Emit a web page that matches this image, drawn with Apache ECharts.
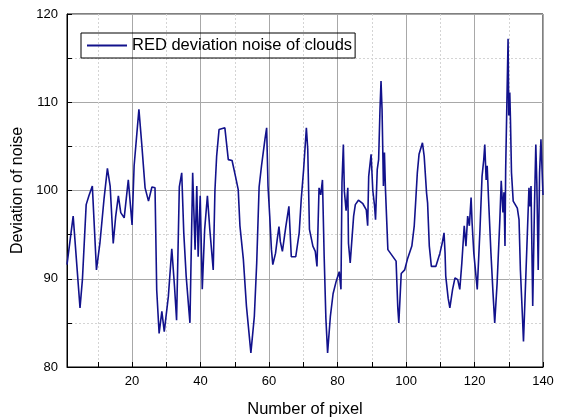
<!DOCTYPE html>
<html>
<head>
<meta charset="utf-8">
<script src="https://cdn.jsdelivr.net/npm/echarts@6/dist/echarts.min.js"></script>
<style>html,body{margin:0;padding:0;background:#fff;}#c{width:561px;height:419px;}</style>
</head>
<body>
<div id="c"></div>
<script>
var pixelX = [1.0,2.8,4.8,5.5,6.6,7.4,8.4,9.6,10.6,11.8,12.8,13.6,14.5,15.2,16.0,16.7,17.7,18.9,20.0,20.6,
  22.0,22.8,23.8,24.8,25.8,26.7,27.2,27.9,28.7,29.4,30.6,31.6,32.4,33.0,33.8,34.5,35.1,35.8,36.5,36.9,
  37.7,38.4,38.9,39.3,39.9,40.5,41.2,42.0,42.7,43.7,44.2,44.7,45.4,47.1,48.1,49.2,50.2,51.0,51.5,52.5,
  53.4,54.7,55.7,56.4,57.1,57.8,58.8,59.3,59.7,60.2,60.7,61.1,61.9,62.4,62.9,63.3,63.9,64.9,65.8,66.5,
  67.8,68.8,69.4,70.1,70.9,71.3,71.8,72.8,73.5,74.0,74.6,75.1,75.6,76.1,76.6,77.1,77.9,78.7,79.6,80.5,
  81.0,81.3,81.7,82.0,82.5,83.0,83.2,83.7,84.7,85.2,86.1,87.4,88.4,88.8,89.1,89.8,90.3,90.8,91.1,91.6,
  92.0,92.4,92.7,93.0,93.4,93.7,94.0,94.7,97.1,97.6,97.9,98.6,99.6,100.4,101.7,102.4,102.8,103.3,103.8,104.3,
  104.8,105.3,106.0,106.3,106.8,107.4,108.7,109.9,110.6,111.1,111.4,111.6,112.3,112.8,113.6,114.3,115.1,115.7,116.3,117.0,
  117.5,118.0,118.5,119.0,119.3,119.8,120.8,121.6,122.2,122.7,123.0,123.4,123.7,124.1,124.8,125.4,125.9,126.6,127.4,127.8,
  128.3,128.6,128.9,129.1,129.4,129.8,130.0,130.3,130.5,130.8,131.3,132.5,133.0,133.4,134.0,134.3,134.6,135.4,135.9,136.2,
  136.5,137.0,137.5,137.9,138.2,138.6,139.0,139.4,140.0];
var noiseY = [91.6,97.1,86.7,89.9,98.4,99.4,100.5,91.0,94.0,99.0,102.5,100.5,94.0,97.0,99.4,97.5,96.9,101.2,96.1,102.8,
  109.2,105.4,100.3,98.8,100.4,100.3,88.7,83.8,86.3,84.0,88.0,93.4,89.1,85.3,100.4,102.0,95.2,90.3,86.9,85.0,
  102.0,93.3,100.5,92.5,99.4,88.8,95.6,99.4,95.6,91.0,100.0,103.9,106.9,107.1,103.5,103.4,101.6,100.1,96.0,92.2,
  86.9,81.6,85.7,91.8,100.4,102.8,105.8,107.1,100.5,97.1,93.3,91.6,92.9,94.5,95.9,94.2,93.1,95.9,98.2,92.5,
  92.5,95.2,99.0,102.4,107.1,104.7,95.6,93.7,93.1,91.4,100.3,99.5,101.2,92.5,85.5,81.6,85.7,88.3,89.7,90.8,
  88.8,100.9,105.2,99.9,97.7,100.3,94.0,91.8,97.1,98.4,98.9,98.5,97.8,96.0,101.6,104.1,100.0,98.3,96.7,102.4,
  103.5,109.2,112.4,109.2,100.5,104.3,100.1,93.3,92.0,86.7,85.0,90.6,91.0,92.2,93.7,96.0,98.6,102.0,104.1,104.1,
  105.4,103.9,99.7,98.6,93.7,91.4,91.4,92.9,94.1,95.2,92.9,90.3,87.8,86.7,88.8,90.1,89.9,88.8,91.8,96.0,
  93.7,97.1,96.0,99.2,96.3,92.9,88.8,95.6,101.6,103.5,105.2,101.2,102.8,99.0,92.9,88.4,85.0,89.5,96.7,101.1,
  97.5,99.8,93.7,102.4,108.8,117.2,108.5,111.1,108.0,102.0,98.8,98.0,96.7,91.0,85.7,82.9,86.1,94.8,100.3,98.2,
  100.5,86.9,98.0,105.2,100.9,91.0,102.0,105.8,99.5];
var xLabelTicks = [20, 40, 60, 80, 100, 120, 140];
var xAllTicks = [10, 20, 30, 40, 50, 60, 70, 80, 90, 100, 110, 120, 130, 140];
var xMinorGrid = [10, 30, 50, 70, 90, 110, 130];
var seriesName = 'RED deviation noise of clouds';

var points = pixelX.map(function (x, i) { return [x, noiseY[i]]; });
var font = 'Liberation Sans, Arial, sans-serif';
var lineColor = '#12128c';
var chart = echarts.init(document.getElementById('c'), null, {renderer: 'canvas'});
chart.setOption({
  animation: false,
  backgroundColor: '#fff',
  grid: {left: 67, right: 18, top: 14, bottom: 52, outerBoundsMode: 'none', containLabel: false,
    show: true, borderColor: '#000', borderWidth: 1, backgroundColor: 'transparent'},
  legend: {
    left: 81, top: 33, padding: [4, 3, 4, 6], borderColor: '#000', borderWidth: 1, borderRadius: 0,
    itemWidth: 40, itemHeight: 2, itemGap: 5,
    textStyle: {fontFamily: font, fontSize: 16.5, color: '#000', lineHeight: 17},
    data: [{name: seriesName, icon: 'rect', itemStyle: {color: lineColor}}]
  },
  xAxis: [{
    type: 'value', min: 1, max: 140,
    name: 'Number of pixel', nameLocation: 'middle', nameGap: 34,
    nameTextStyle: {fontFamily: font, fontSize: 16.5, color: '#000'},
    axisLine: {show: true, lineStyle: {color: '#000', width: 1}},
    axisTick: {show: true, inside: true, length: 5, customValues: xAllTicks, lineStyle: {color: '#000'}},
    axisLabel: {customValues: xLabelTicks, fontFamily: font, fontSize: 13, color: '#000', margin: 8},
    splitLine: {show: false}
  }, {
    type: 'value', min: 1, max: 140, position: 'bottom',
    axisLine: {show: false}, axisLabel: {show: false},
    axisTick: {show: false, customValues: xLabelTicks},
    splitLine: {show: true, lineStyle: {color: '#a8a8a8', width: 1}}
  }, {
    type: 'value', min: 1, max: 140, position: 'bottom',
    axisLine: {show: false}, axisLabel: {show: false},
    axisTick: {show: false, customValues: xMinorGrid},
    splitLine: {show: true, lineStyle: {color: '#d4d4d4', width: 1, type: [2, 2]}}
  }],
  yAxis: {
    type: 'value', min: 80, max: 120, interval: 10,
    name: 'Deviation of noise', nameLocation: 'middle', nameGap: 35,
    nameTextStyle: {fontFamily: font, fontSize: 16, color: '#000'},
    axisLine: {show: true, lineStyle: {color: '#000', width: 1}},
    axisTick: {show: true, inside: true, length: 5, lineStyle: {color: '#000'}},
    minorTick: {show: true, splitNumber: 2, length: 5, lineStyle: {color: '#000'}},
    axisLabel: {fontFamily: font, fontSize: 13, color: '#000', margin: 9},
    splitLine: {show: true, lineStyle: {color: '#a8a8a8', width: 1}},
    minorSplitLine: {show: true, lineStyle: {color: '#d4d4d4', width: 1, type: [2, 2]}}
  },
  series: [{
    name: seriesName, type: 'line', xAxisIndex: 0, data: points,
    showSymbol: false, symbol: 'none',
    lineStyle: {color: lineColor, width: 1.6},
    itemStyle: {color: lineColor}
  }]
});
</script>
</body>
</html>
